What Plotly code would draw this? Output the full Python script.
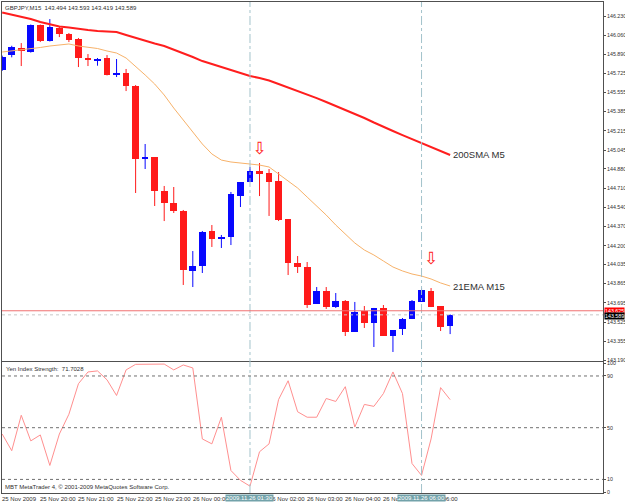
import plotly.graph_objects as go

# ---------------- data ----------------
symbol_header = "GBPJPY,M15  143.494 143.593 143.419 143.589"
bars = list(range(48))  # M15 bars from 25 Nov 19:00 to 26 Nov 06:45

opens = [145.753, 145.885, 145.947, 145.912, 146.150, 146.009, 146.124, 146.071, 146.027, 145.859,
         145.841, 145.859, 145.717, 145.726, 145.611, 144.975, 144.984, 144.684, 144.577, 144.507,
         143.977, 144.021, 144.330, 144.259, 144.277, 144.639, 144.763, 144.860, 144.843, 144.772,
         144.436, 144.047, 144.012, 143.685, 143.800, 143.658, 143.711, 143.438, 143.623, 143.517,
         143.650, 143.402, 143.464, 143.552, 143.703, 143.800, 143.667, 143.494]
highs = [145.880, 145.967, 145.991, 146.155, 146.155, 146.203, 146.133, 146.080, 146.036, 145.894,
         145.859, 145.885, 145.850, 145.762, 145.620, 145.099, 144.984, 144.728, 144.719, 144.516,
         144.153, 144.330, 144.383, 144.295, 144.675, 144.763, 144.896, 144.931, 144.878, 144.851,
         144.436, 144.109, 144.056, 143.835, 143.835, 143.782, 143.720, 143.703, 143.667, 143.650,
         143.676, 143.455, 143.561, 143.720, 143.826, 143.826, 143.667, 143.593]
lows = [145.745, 145.865, 145.788, 145.907, 146.000, 146.005, 146.044, 146.000, 145.779, 145.788,
        145.791, 145.705, 145.691, 145.567, 144.666, 144.878, 144.551, 144.418, 144.489, 143.853,
        143.835, 143.959, 144.189, 144.180, 144.206, 144.542, 144.763, 144.639, 144.463, 144.418,
        143.941, 143.959, 143.650, 143.685, 143.641, 143.650, 143.402, 143.438, 143.473, 143.305,
        143.402, 143.261, 143.411, 143.552, 143.703, 143.658, 143.446, 143.419]
closes = [145.868, 145.956, 145.921, 146.150, 146.009, 146.133, 146.071, 146.018, 145.859, 145.841,
          145.850, 145.709, 145.726, 145.611, 144.966, 144.984, 144.684, 144.577, 144.507, 143.985,
          144.021, 144.321, 144.259, 144.277, 144.657, 144.763, 144.860, 144.834, 144.763, 144.427,
          144.047, 144.012, 143.676, 143.800, 143.658, 143.711, 143.438, 143.614, 143.517, 143.650,
          143.402, 143.455, 143.552, 143.711, 143.809, 143.658, 143.482, 143.589]

sma200_m5 = [146.261, 146.243, 146.226, 146.203, 146.177, 146.155, 146.137, 146.128, 146.115, 146.106,
             146.097, 146.093, 146.089, 146.062, 146.036, 146.009, 145.987, 145.965, 145.934, 145.903,
             145.868, 145.832, 145.806, 145.775, 145.748, 145.722, 145.700, 145.682, 145.660, 145.629,
             145.598, 145.572, 145.536, 145.505, 145.470, 145.435, 145.399, 145.368, 145.329, 145.289,
             145.249, 145.214, 145.178, 145.143, 145.108, 145.072, 145.037, 145.002]
ema21_m15 = [145.912, 145.921, 145.930, 145.943, 145.952, 145.965, 145.974, 145.983, 145.965, 145.956,
             145.943, 145.921, 145.903, 145.859, 145.788, 145.709, 145.629, 145.532, 145.417, 145.311,
             145.196, 145.099, 145.011, 144.957, 144.940, 144.931, 144.922, 144.913, 144.896, 144.834,
             144.772, 144.710, 144.630, 144.551, 144.471, 144.383, 144.304, 144.224, 144.162, 144.118,
             144.065, 144.012, 143.977, 143.950, 143.932, 143.906, 143.871, 143.844]

yen_strength = [45.1, 32.2, 59.6, 39.8, 44.4, 20.8, 45.1, 60.4, 84.0, 93.1,
                93.9, 87.0, 74.9, 94.7, 99.0, 99.0, 99.2, 99.2, 94.7, 98.5,
                96.2, 41.3, 37.5, 58.1, 16.9, 9.3, 4.8, 31.4, 37.5, 71.8,
                86.3, 62.3, 58.1, 58.1, 72.6, 70.3, 81.7, 50.5, 68.0, 66.5,
                76.4, 93.1, 76.4, 22.3, 13.1, 41.3, 81.0, 71.7028]
yen_levels = [90, 50, 10]
yen_ticks = [100, 90, 50, 10, 0]

signal_bars = [27, 45]
signal_prices = [145.046, 144.074]

bid_price = 143.589
ask_price = 143.625

price_ticks = [146.230, 146.060, 145.890, 145.725, 145.555, 145.385, 145.215, 145.045, 144.880,
               144.710, 144.540, 144.370, 144.200, 144.035, 143.865, 143.695, 143.525, 143.355, 143.190]

# hour labels (the 01:00 one is fully hidden by the cursor label in the original)
time_tick_bars = [0, 4, 8, 12, 16, 20, 28, 32, 36, 40, 44]
time_tick_text = ["25 Nov 2009", "25 Nov 20:00", "25 Nov 21:00", "25 Nov 22:00", "25 Nov 23:00",
                  "26 Nov 00:00", "26 Nov 02:00", "26 Nov 03:00", "26 Nov 04:00",
                  "26 Nov 05:00", "26 Nov 06:00"]
cursor_bars = [26, 44]
cursor_text = ["2009.11.26 01:30", "2009.11.26 06:00"]

# ---------------- styles ----------------
FONT = "Liberation Sans"
BULL = "#0808ff"
BEAR = "#ff1a1a"
FRAME = "#505050"
AXFONT = dict(family=FONT, size=5.3, color="#303030")

fig = go.Figure()

up = [c >= o for o, c in zip(opens, closes)]

for is_up, col in [(True, BULL), (False, BEAR)]:
    wx, wy = [], []
    for i, u in enumerate(up):
        if u == is_up:
            wx += [bars[i], bars[i], None]
            wy += [lows[i], highs[i], None]
    fig.add_trace(go.Scatter(x=wx, y=wy, mode="lines", line=dict(color=col, width=1),
                             hoverinfo="skip", showlegend=False, xaxis="x", yaxis="y"))

fig.add_trace(go.Bar(
    x=bars,
    base=[min(o, c) for o, c in zip(opens, closes)],
    y=[max(abs(c - o), 0.006) for o, c in zip(opens, closes)],
    width=0.7,
    marker=dict(color=[BULL if u else BEAR for u in up], line=dict(width=0)),
    showlegend=False, hoverinfo="skip", xaxis="x", yaxis="y"))

fig.add_trace(go.Scatter(x=bars, y=ema21_m15, mode="lines", line=dict(color="#f7b26a", width=1),
                         showlegend=False, hoverinfo="skip", xaxis="x", yaxis="y"))
fig.add_trace(go.Scatter(x=bars, y=sma200_m5, mode="lines", line=dict(color="#ff1e1e", width=2),
                         showlegend=False, hoverinfo="skip", xaxis="x", yaxis="y"))

fig.add_trace(go.Scatter(x=signal_bars, y=signal_prices, mode="text", text=["⇩"] * len(signal_bars),
                         textfont=dict(family="DejaVu Sans", size=17, color="#ff2020"),
                         textposition="middle center", showlegend=False, hoverinfo="skip",
                         xaxis="x", yaxis="y"))

fig.add_trace(go.Scatter(x=bars, y=yen_strength, mode="lines", line=dict(color="#ff8f8f", width=1),
                         showlegend=False, hoverinfo="skip", xaxis="x2", yaxis="y2"))

shapes = []
for b in cursor_bars:
    shapes.append(dict(type="line", xref="x", yref="paper", x0=b, x1=b, y0=0, y1=1,
                       line=dict(color="#a3c3cb", width=1, dash="dashdot")))
shapes.append(dict(type="line", xref="paper", yref="y", x0=0, x1=1, y0=ask_price, y1=ask_price,
                   line=dict(color="#f07070", width=1)))
shapes.append(dict(type="line", xref="paper", yref="y", x0=0, x1=1, y0=bid_price, y1=bid_price,
                   line=dict(color="#c8c8c8", width=1, dash="dot")))
for lv in yen_levels:
    shapes.append(dict(type="line", xref="paper", yref="y2", x0=0, x1=1, y0=lv, y1=lv,
                       line=dict(color="#707070", width=1, dash="dot")))

ann = []
ann.append(dict(text=symbol_header, xref="paper", yref="paper", x=0, y=1, xanchor="left",
                yanchor="top", xshift=1, yshift=-1, showarrow=False,
                font=dict(family=FONT, size=6, color="#303030")))
ann.append(dict(text="Yen Index Strength:  " + f"{yen_strength[-1]:.4f}", xref="paper", yref="paper",
                x=0, y=0.2668, xanchor="left", yanchor="top", xshift=2, yshift=-2, showarrow=False,
                font=dict(family=FONT, size=6, color="#303030")))
ann.append(dict(text="MBT MetaTrader 4, © 2001-2009 MetaQuotes Software Corp.", xref="paper",
                yref="paper", x=0, y=0, xanchor="left", yanchor="bottom", xshift=1, yshift=1,
                showarrow=False, font=dict(family=FONT, size=6, color="#303030")))
ann.append(dict(text="200SMA M5", xref="x", yref="y", x=bars[-1], y=sma200_m5[-1], xanchor="left",
                yanchor="middle", xshift=1, showarrow=False,
                font=dict(family=FONT, size=9.5, color="#303030")))
ann.append(dict(text="21EMA M15", xref="x", yref="y", x=bars[-1], y=ema21_m15[-1], xanchor="left",
                yanchor="middle", xshift=1, showarrow=False,
                font=dict(family=FONT, size=9.5, color="#303030")))
for b, t in zip(time_tick_bars, time_tick_text):
    ann.append(dict(text=t, xref="x2", yref="paper", x=b, y=0, xanchor="left", yanchor="top",
                    xshift=-2, yshift=-1, showarrow=False,
                    font=dict(family=FONT, size=6, color="#303030")))
for b, t in zip(cursor_bars, cursor_text):
    ann.append(dict(text=t, xref="x2", yref="paper", x=b, y=0, xanchor="center", yanchor="top",
                    yshift=-1, showarrow=False, bgcolor="#72a2aa", borderpad=0,
                    font=dict(family=FONT, size=6, color="#ffffff")))
ann.append(dict(text=f"{ask_price:.3f}", xref="paper", yref="y", x=1, y=ask_price, xanchor="left",
                yanchor="middle", xshift=1, showarrow=False, bgcolor="#ff0000", borderpad=0,
                font=dict(family=FONT, size=5.3, color="#ffffff")))
ann.append(dict(text=f"{bid_price:.3f}", xref="paper", yref="y", x=1, y=bid_price, xanchor="left",
                yanchor="middle", xshift=1, yshift=-1, showarrow=False, bgcolor="#000000", borderpad=0,
                font=dict(family=FONT, size=5.3, color="#ffffff")))

axis_common = dict(showgrid=False, zeroline=False, showline=True, mirror=True, linecolor=FRAME,
                   linewidth=1, automargin=False)

fig.update_layout(
    width=625, height=504,
    margin=dict(l=2, r=22, t=2, b=11, autoexpand=False),
    paper_bgcolor="#ffffff", plot_bgcolor="#ffffff",
    barmode="overlay", bargap=0,
    showlegend=False,
    xaxis=dict(domain=[0, 1], anchor="y", range=[-0.02, 63.04], showticklabels=False, ticks="",
               **axis_common),
    yaxis=dict(domain=[0.2688, 1], anchor="x", side="right", range=[143.181, 146.354],
               tickvals=price_ticks, ticktext=[f"{v:.3f}" for v in price_ticks],
               ticks="outside", ticklen=2, tickcolor=FRAME,
               tickfont=AXFONT, **axis_common),
    xaxis2=dict(domain=[0, 1], anchor="y2", matches="x", showticklabels=False, ticks="",
                **axis_common),
    yaxis2=dict(domain=[0, 0.2668], anchor="x2", side="right", range=[-0.5, 100.8],
                tickvals=yen_ticks, ticktext=[str(v) for v in yen_ticks],
                ticks="outside", ticklen=2, tickcolor=FRAME,
                tickfont=AXFONT, **axis_common),
    shapes=shapes,
    annotations=ann,
)

fig.write_html("out.html")
